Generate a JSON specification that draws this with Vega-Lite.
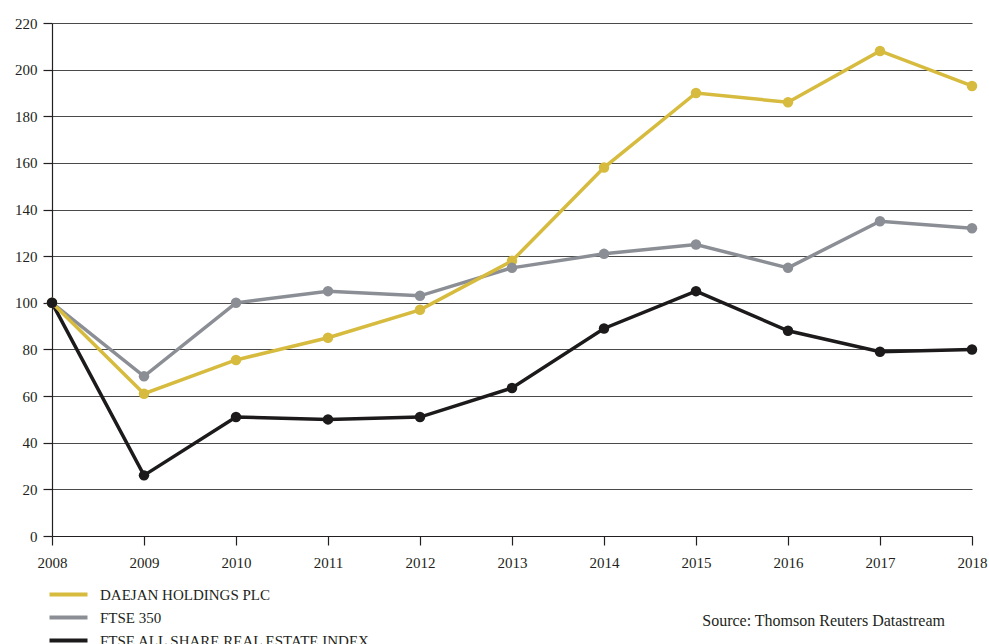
{
  "$schema": "https://vega.github.io/schema/vega-lite/v6.json",
  "width": 920,
  "height": 513,
  "autosize": {"type": "none"},
  "padding": {"left": 52, "top": 23, "right": 17, "bottom": 108},
  "background": "white",
  "title": {
    "text": "Source: Thomson Reuters Datastream",
    "orient": "bottom",
    "anchor": "end",
    "frame": "group",
    "offset": -36,
    "dx": -27,
    "font": "Liberation Serif",
    "fontSize": 16,
    "fontWeight": "normal",
    "color": "#231f20"
  },
  "config": {
    "view": {"stroke": null},
    "font": "Liberation Serif"
  },
  "data": {
    "values": [
      {"year": 2008, "series": "FTSE ALL SHARE REAL ESTATE INDEX", "value": 100},
      {"year": 2009, "series": "FTSE ALL SHARE REAL ESTATE INDEX", "value": 26},
      {"year": 2010, "series": "FTSE ALL SHARE REAL ESTATE INDEX", "value": 51},
      {"year": 2011, "series": "FTSE ALL SHARE REAL ESTATE INDEX", "value": 50},
      {"year": 2012, "series": "FTSE ALL SHARE REAL ESTATE INDEX", "value": 51},
      {"year": 2013, "series": "FTSE ALL SHARE REAL ESTATE INDEX", "value": 63.5},
      {"year": 2014, "series": "FTSE ALL SHARE REAL ESTATE INDEX", "value": 89},
      {"year": 2015, "series": "FTSE ALL SHARE REAL ESTATE INDEX", "value": 105},
      {"year": 2016, "series": "FTSE ALL SHARE REAL ESTATE INDEX", "value": 88},
      {"year": 2017, "series": "FTSE ALL SHARE REAL ESTATE INDEX", "value": 79},
      {"year": 2018, "series": "FTSE ALL SHARE REAL ESTATE INDEX", "value": 80},
      {"year": 2008, "series": "FTSE 350", "value": 100},
      {"year": 2009, "series": "FTSE 350", "value": 68.5},
      {"year": 2010, "series": "FTSE 350", "value": 100},
      {"year": 2011, "series": "FTSE 350", "value": 105},
      {"year": 2012, "series": "FTSE 350", "value": 103},
      {"year": 2013, "series": "FTSE 350", "value": 115},
      {"year": 2014, "series": "FTSE 350", "value": 121},
      {"year": 2015, "series": "FTSE 350", "value": 125},
      {"year": 2016, "series": "FTSE 350", "value": 115},
      {"year": 2017, "series": "FTSE 350", "value": 135},
      {"year": 2018, "series": "FTSE 350", "value": 132},
      {"year": 2008, "series": "DAEJAN HOLDINGS PLC", "value": 100},
      {"year": 2009, "series": "DAEJAN HOLDINGS PLC", "value": 61},
      {"year": 2010, "series": "DAEJAN HOLDINGS PLC", "value": 75.5},
      {"year": 2011, "series": "DAEJAN HOLDINGS PLC", "value": 85},
      {"year": 2012, "series": "DAEJAN HOLDINGS PLC", "value": 97},
      {"year": 2013, "series": "DAEJAN HOLDINGS PLC", "value": 118},
      {"year": 2014, "series": "DAEJAN HOLDINGS PLC", "value": 158},
      {"year": 2015, "series": "DAEJAN HOLDINGS PLC", "value": 190},
      {"year": 2016, "series": "DAEJAN HOLDINGS PLC", "value": 186},
      {"year": 2017, "series": "DAEJAN HOLDINGS PLC", "value": 208},
      {"year": 2018, "series": "DAEJAN HOLDINGS PLC", "value": 193}
    ]
  },
  "mark": {
    "type": "line",
    "strokeWidth": 3.5,
    "point": {"filled": true, "size": 110, "opacity": 1}
  },
  "encoding": {
    "x": {
      "field": "year",
      "type": "quantitative",
      "scale": {"domain": [2008, 2018], "nice": false, "zero": false},
      "axis": {
        "title": null,
        "values": [2008, 2009, 2010, 2011, 2012, 2013, 2014, 2015, 2016, 2017, 2018],
        "format": "d",
        "grid": false,
        "domainColor": "#231f20",
        "domainWidth": 1.2,
        "tickColor": "#231f20",
        "tickSize": 9,
        "tickWidth": 1.2,
        "labelPadding": 10,
        "labelFont": "Liberation Serif",
        "labelFontSize": 15,
        "labelColor": "#231f20",
        "labelFlush": false
      }
    },
    "y": {
      "field": "value",
      "type": "quantitative",
      "scale": {"domain": [0, 220], "nice": false},
      "axis": {
        "title": null,
        "values": [0, 20, 40, 60, 80, 100, 120, 140, 160, 180, 200, 220],
        "grid": true,
        "gridColor": "#4a4a4a",
        "gridWidth": 1,
        "domainColor": "#231f20",
        "domainWidth": 1.2,
        "tickColor": "#231f20",
        "tickSize": 9,
        "tickWidth": 1.2,
        "labelPadding": 6,
        "labelFont": "Liberation Serif",
        "labelFontSize": 15,
        "labelColor": "#231f20"
      }
    },
    "color": {
      "field": "series",
      "type": "nominal",
      "sort": ["FTSE ALL SHARE REAL ESTATE INDEX", "FTSE 350", "DAEJAN HOLDINGS PLC"],
      "scale": {
        "domain": ["DAEJAN HOLDINGS PLC", "FTSE 350", "FTSE ALL SHARE REAL ESTATE INDEX"],
        "range": ["#d6bb3e", "#8b8f95", "#1c1a1b"]
      },
      "legend": {
        "title": null,
        "orient": "none",
        "legendX": 5,
        "legendY": 560,
        "padding": 0,
        "symbolType": "M-2,0H2",
        "symbolStrokeWidth": 4,
        "symbolSize": 361,
        "labelFont": "Liberation Serif",
        "labelFontSize": 15,
        "labelColor": "#231f20",
        "labelOffset": 20,
        "rowPadding": 3,
        "labelLimit": 400
      }
    },
    "order": {"field": "series"}
  }
}
